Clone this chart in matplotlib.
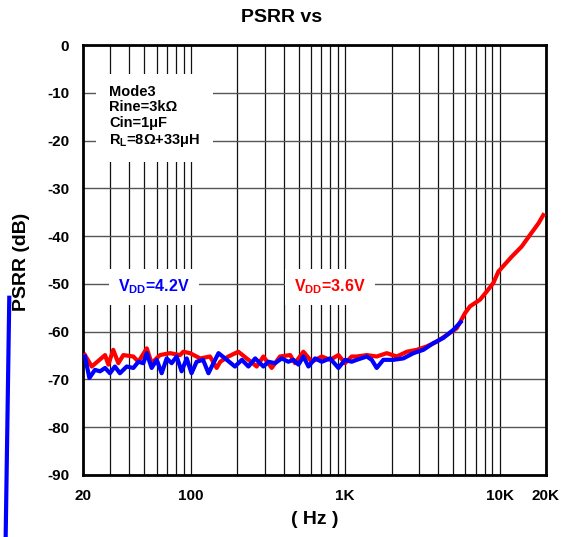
#!/usr/bin/env python
# coding=utf-8

import matplotlib
matplotlib.use('Agg')
import matplotlib.pyplot as plt

#  Red curve, VDD = 3.6 V  (frequency in Hz, PSRR in dB)
f_36 = [20.6, 22.8, 27.8, 29.2, 31.4, 33.9, 36.5, 42.4, 45.7, 51.8,
        55.7, 63.1, 73.3, 85.1, 89.3, 98.7, 115, 133, 147, 155,
        175, 203, 230, 267, 295, 334, 378, 440, 473, 536,
        607, 705, 798, 904, 998, 1101, 1188, 1380, 1600, 1858,
        2160, 2510, 2910, 3370, 3920, 4550, 5280, 5980, 6440, 7480,
        8260, 9120, 9840, 12000, 13900, 15800, 17900, 19200]
psrr_36 = [-64.9, -67.3, -64.9, -66.9, -63.8, -66.6, -64.9, -65.2, -66.3, -63.5,
           -66.6, -64.9, -64.5, -64.9, -64.2, -64.5, -65.6, -65.2, -67.6, -66.3,
           -65.2, -64.2, -65.6, -67.3, -65.2, -67.6, -65.2, -64.9, -66.6, -64.2,
           -66.3, -65.2, -65.9, -64.9, -66.6, -65.2, -65.2, -64.9, -65.2, -64.5,
           -65.2, -64.2, -63.8, -63.1, -62.1, -60.7, -59.3, -56.1, -54.7, -53.3,
           -51.6, -49.8, -47.4, -44.3, -42.2, -39.7, -37.3, -35.6]

#  Blue curve, VDD = 4.2 V
f_42 = [20.6, 22.0, 23.9, 25.8, 27.8, 29.9, 32.2, 34.7, 38.4, 42.4,
        45.7, 49.2, 51.8, 55.7, 60.1, 64.7, 69.7, 75.1, 80.9, 87.1,
        94.0, 101, 109, 120, 130, 140, 151, 171, 193, 214,
        236, 261, 295, 318, 351, 388, 428, 462, 498, 536,
        578, 638, 705, 798, 904, 998, 1101, 1188, 1380, 1486,
        1600, 1766, 2050, 2380, 2770, 3210, 3730, 4330, 5030, 5600]
psrr_42 = [-65.2, -69.7, -68.0, -68.3, -67.6, -68.7, -67.3, -68.7, -67.3, -67.6,
           -66.3, -66.6, -64.5, -67.6, -65.9, -68.7, -65.6, -66.6, -65.2, -68.3,
           -65.6, -68.7, -66.3, -65.9, -68.7, -66.6, -64.5, -65.9, -67.3, -65.9,
           -67.3, -65.6, -67.3, -66.3, -66.6, -65.6, -66.3, -65.9, -66.9, -65.2,
           -67.3, -65.6, -66.3, -65.6, -67.6, -65.9, -66.3, -65.9, -65.2, -65.9,
           -67.6, -65.9, -65.9, -65.6, -64.5, -63.8, -62.4, -61.3, -59.6, -58.0]

#  Stray blue stroke left of the axes in the original figure
stray_f = [6.66, 6.31]
stray_db = [-52.9, -102.9]

x_ticks = [20, 100, 1000, 10000, 20000]
x_labels = ['20', '100', '1K', '10K', '20K']
x_minor = [30, 40, 50, 60, 70, 80, 90,
           200, 300, 400, 500, 600, 700, 800, 900,
           2000, 3000, 4000, 5000, 6000, 7000, 8000, 9000]
y_ticks = [0, -10, -20, -30, -40, -50, -60, -70, -80, -90]

plt.rcParams['font.family'] = ['Liberation Sans', 'DejaVu Sans']
plt.rcParams['font.weight'] = 'bold'
plt.rcParams['mathtext.fontset'] = 'custom'
plt.rcParams['mathtext.rm'] = 'Liberation Sans:bold'
plt.rcParams['mathtext.it'] = 'Liberation Sans:bold'
plt.rcParams['mathtext.bf'] = 'Liberation Sans:bold'

fig = plt.figure(figsize=(5.63, 5.37), dpi=100)
ax = fig.add_axes([0.1474, 0.1155, 0.8224, 0.8007])

ax.set_xscale('log')
ax.set_xlim(20, 20000)
ax.set_ylim(-90, 0)

ax.set_xticks(x_ticks)
ax.set_xticklabels(x_labels)
ax.set_xticks(x_minor, minor=True)
ax.set_xticklabels([], minor=True)
ax.set_yticks(y_ticks)
ax.set_yticklabels([str(v) for v in y_ticks])

ax.tick_params(axis='both', which='both', length=0, labelsize=11, pad=10)
for lab in ax.get_xticklabels() + ax.get_yticklabels():
    lab.set_fontweight('bold')

ax.grid(True, axis='x', which='both', color='#111111', linewidth=0.9)
ax.grid(True, axis='y', which='major', color='#555555', linewidth=1.0)
ax.set_axisbelow(True)

for sp in ax.spines.values():
    sp.set_linewidth(2)
    sp.set_color('black')

ax.plot(f_36, psrr_36, color='#ff0000', linewidth=3, zorder=3)
ax.plot(f_42, psrr_42, color='#0000ff', linewidth=3, zorder=4)
ax.plot(stray_f, stray_db, color='#0000ff', linewidth=3, clip_on=False,
        zorder=4)

ax.text(29.5, -8.3, 'Mode3\nRine=3k\u03a9\nCin=1\u03bcF\nR$_\\mathrm{L}$=8\u03a9+33\u03bcH',
        ha='left', va='top', fontsize=10.5, fontweight='bold',
        linespacing=1.15, zorder=5,
        bbox=dict(boxstyle='square,pad=0.9', fc='white', ec='none'))

ax.text(57.7, -50.6, 'V$_\\mathrm{DD}$=4.2V', color='#0000ff',
        ha='center', va='center', fontsize=11.5, fontweight='bold', zorder=5,
        bbox=dict(boxstyle='square,pad=0.55', fc='white', ec='none'))
ax.text(798, -50.6, 'V$_\\mathrm{DD}$=3.6V', color='#ff0000',
        ha='center', va='center', fontsize=11.5, fontweight='bold', zorder=5,
        bbox=dict(boxstyle='square,pad=0.55', fc='white', ec='none'))

fig.text(0.5, 0.967, 'PSRR vs', ha='center', va='center',
         fontsize=14, fontweight='bold')
fig.text(0.038, 0.512, 'PSRR (dB)', ha='center', va='center',
         rotation=90, fontsize=14, fontweight='bold')
ax.set_xlabel('( Hz )', fontsize=14, fontweight='bold', labelpad=6)

plt.savefig('out.png', dpi=100)
plt.close()
